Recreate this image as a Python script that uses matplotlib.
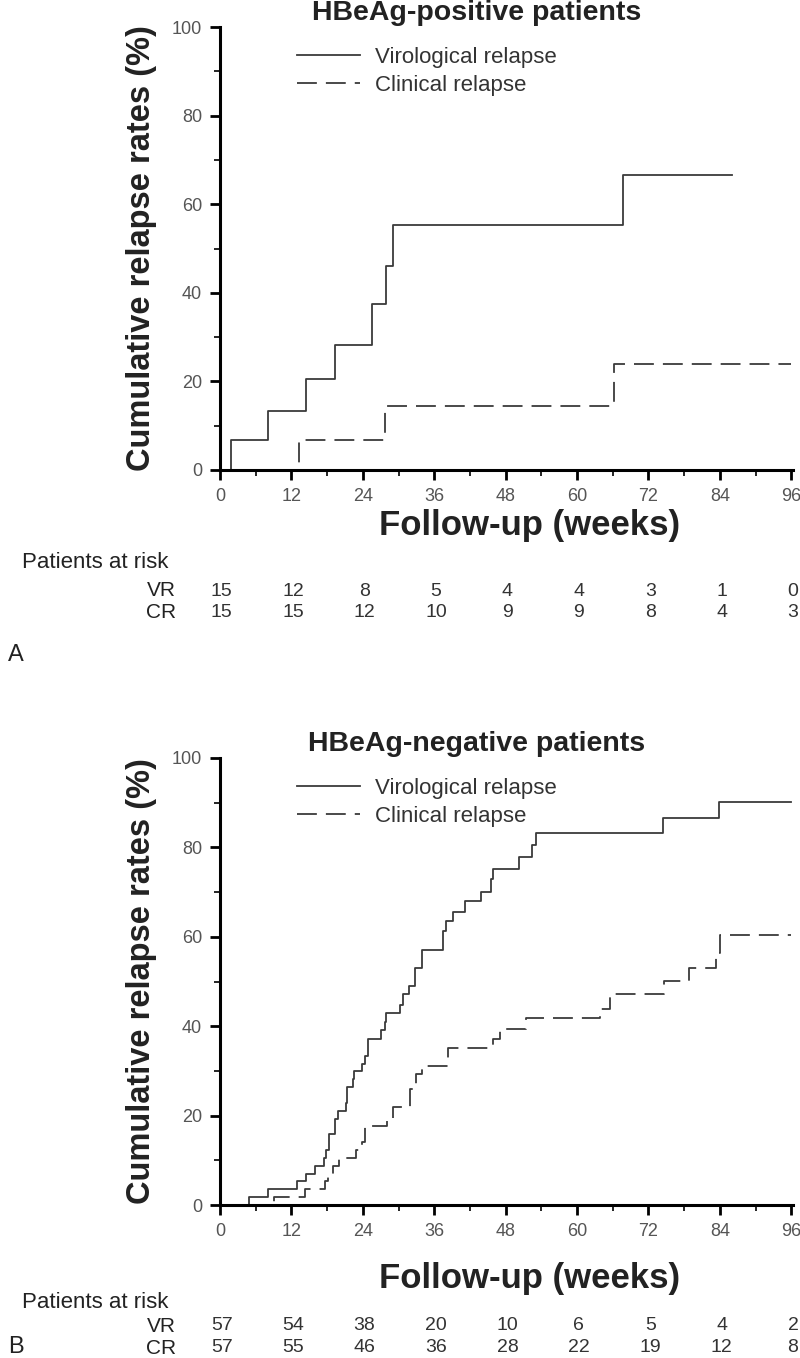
import numpy as np
import matplotlib
matplotlib.use('Agg')
import matplotlib.pyplot as plt
import matplotlib.transforms as mtransforms

narrow = ['Liberation Sans Narrow', 'Liberation Sans', 'DejaVu Sans']
wide = ['Liberation Sans', 'DejaVu Sans']

# HBeAg-positive patients
pos_vr_weeks = [0, 1.8, 8.1, 14.4, 19.4, 25.5, 27.9, 29.1, 67.7, 86.0]
pos_vr_rate = [0, 6.7, 13.3, 20.6, 28.3, 37.5, 46.0, 55.3, 66.5, 66.5]
pos_cr_weeks = [0, 13.2, 27.7, 66.3, 96.0]
pos_cr_rate = [0, 6.7, 14.4, 24.0, 24.0]
pos_risk_vr = [15, 12, 8, 5, 4, 4, 3, 1, 0]
pos_risk_cr = [15, 15, 12, 10, 9, 9, 8, 4, 3]

# HBeAg-negative patients
neg_vr_weeks = [0, 4.9, 8.0, 13.0, 14.5, 16.0, 17.4, 17.8, 18.3, 19.4, 19.8, 21.1,
                21.4, 22.4, 22.6, 23.8, 24.3, 24.9, 27.1, 27.7, 27.9, 30.3, 30.8,
                31.8, 32.8, 33.9, 37.4, 38.0, 39.2, 41.2, 43.9, 45.5, 45.9, 50.3,
                52.5, 53.1, 74.5, 83.9, 96.0]
neg_vr_rate = [0, 1.75, 3.5, 5.3, 7.0, 8.8, 10.5, 12.3, 15.8, 19.3, 21.1, 22.8,
               26.3, 28.1, 30.0, 31.6, 33.3, 37.2, 39.1, 40.9, 43.0, 44.7, 47.1,
               49.1, 53.1, 57.1, 61.2, 63.5, 65.5, 68.0, 70.1, 72.9, 75.2, 77.8,
               80.6, 83.2, 86.5, 90.1, 90.1]
neg_cr_weeks = [0, 9.0, 14.3, 17.6, 18.2, 19.0, 20.0, 22.9, 23.9, 24.3, 28.0, 29.1,
                31.9, 32.9, 33.9, 38.3, 45.9, 47.0, 51.5, 63.9, 65.5, 74.6, 78.9,
                83.3, 84.1, 96.0]
neg_cr_rate = [0, 1.75, 3.5, 5.3, 7.0, 8.8, 10.5, 12.3, 14.0, 17.6, 19.5, 21.9,
               26.0, 29.3, 31.1, 35.1, 37.2, 39.4, 41.9, 43.9, 47.3, 50.1, 53.1,
               56.4, 60.3, 60.3]
neg_risk_vr = [57, 54, 38, 20, 10, 6, 5, 4, 2]
neg_risk_cr = [57, 55, 46, 36, 28, 22, 19, 12, 8]

risk_weeks = [0, 12, 24, 36, 48, 60, 72, 84, 96]

fig = plt.figure(figsize=(8, 13.58), dpi=100)


def panel(rect, title, vr_w, vr_r, cr_w, cr_r, risk_vr, risk_cr, letter, letter_y,
          head_dy, xpad):
    ax = fig.add_axes(rect)
    ax.step(vr_w, vr_r, where='post', color='#3a3a3a', lw=1.3, label='Virological relapse')
    ax.step(cr_w, cr_r, where='post', color='#3a3a3a', lw=1.3,
            linestyle=(0, (11, 5)), label='Clinical relapse')
    ax.set_xlim(0, 96.3)
    ax.set_ylim(0, 100)
    for s in ['top', 'right']:
        ax.spines[s].set_visible(False)
    for s in ['left', 'bottom']:
        ax.spines[s].set_linewidth(2.2)
        ax.spines[s].set_color('black')
    ax.set_xticks(np.arange(0, 97, 12))
    ax.set_xticks(np.arange(6, 97, 12), minor=True)
    ax.set_yticks(np.arange(0, 101, 20))
    ax.set_yticks(np.arange(10, 100, 20), minor=True)
    ax.tick_params(which='major', length=7, width=2, color='black', labelsize=13,
                   labelcolor='#555555', pad=6)
    ax.tick_params(which='minor', length=4, width=1.2, color='black')
    for lab in ax.get_xticklabels() + ax.get_yticklabels():
        lab.set_family(narrow)
    ax.set_ylabel('Cumulative relapse rates (%)', fontsize=23.5, fontweight='bold',
                  family=wide, color='#222222')
    ax.yaxis.set_label_coords(-0.11, 0.5)
    ax.set_xlabel('Follow-up (weeks)', fontsize=25, fontweight='bold', family=narrow,
                  color='#222222', labelpad=xpad)
    ax.xaxis.label.set_x(0.54)
    ax.set_title(title, fontsize=20.5, fontweight='bold', family=narrow,
                 color='#222222', pad=5, x=0.447)
    leg = ax.legend(loc='upper left', bbox_to_anchor=(0.1, 1.0), frameon=False,
                    handlelength=2.8, handletextpad=0.7, labelspacing=0.3,
                    prop={'family': narrow, 'size': 16})
    for t in leg.get_texts():
        t.set_color('#333333')

    trans = mtransforms.blended_transform_factory(ax.transData, fig.transFigure)
    bottom = rect[1]
    y_head = bottom - head_dy / 1358
    y_vr = bottom - 121 / 1358
    y_cr = bottom - 143 / 1358
    fig.text(22 / 800, y_head, 'Patients at risk', fontsize=16, family=narrow,
             color='#222222', va='center', ha='left')
    fig.text(176 / 800, y_vr, 'VR', fontsize=15, family=narrow, color='#222222',
             va='center', ha='right')
    fig.text(176 / 800, y_cr, 'CR', fontsize=15, family=narrow, color='#222222',
             va='center', ha='right')
    for w, a, b in zip(risk_weeks, risk_vr, risk_cr):
        ax.text(w + 0.3, y_vr, str(a), transform=trans, fontsize=14, family=narrow,
                color='#333333', va='center', ha='center', clip_on=False)
        ax.text(w + 0.3, y_cr, str(b), transform=trans, fontsize=14, family=narrow,
                color='#333333', va='center', ha='center', clip_on=False)
    fig.text(8 / 800, letter_y, letter, fontsize=17, family=wide, color='#222222',
             va='center', ha='left')
    return ax


panel([220 / 800, 1 - 470 / 1358, 573 / 800, 443 / 1358], 'HBeAg-positive patients',
      pos_vr_weeks, pos_vr_rate, pos_cr_weeks, pos_cr_rate, pos_risk_vr, pos_risk_cr,
      'A', 1 - 655 / 1358, 92, 3)
panel([220 / 800, 1 - 1205 / 1358, 573 / 800, 447 / 1358], 'HBeAg-negative patients',
      neg_vr_weeks, neg_vr_rate, neg_cr_weeks, neg_cr_rate, neg_risk_vr, neg_risk_cr,
      'B', 1 - 1347 / 1358, 98, 16)

plt.savefig('out.png', dpi=100)
